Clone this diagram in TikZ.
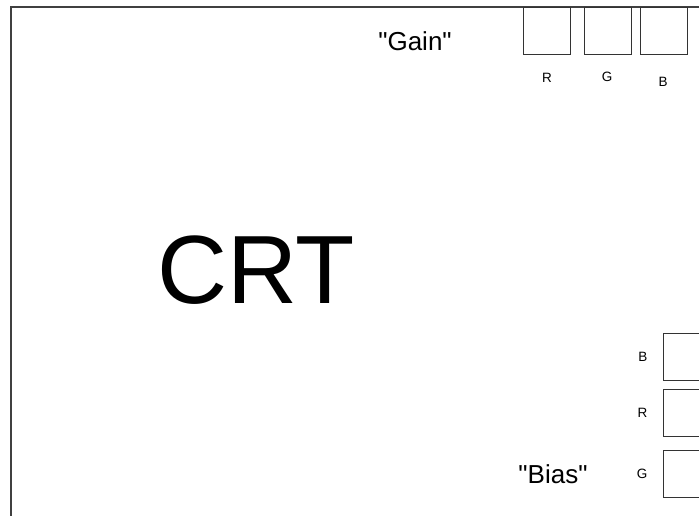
\documentclass[tikz,border=0pt]{standalone}
\usepackage{fontspec}
\setmainfont{Liberation Sans}[Ligatures=TeXOff]
\usetikzlibrary{positioning}
\tikzstyle{frame}=[draw=black!75, line width=1.2pt]
\tikzstyle{knob}=[rectangle, draw=black!80, line width=0.9pt, minimum width=47pt, minimum height=47pt, inner sep=0pt]
\tikzstyle{chan}=[font=\fontsize{13.5}{13.5}\selectfont, inner sep=0pt]
\tikzstyle{caption}=[font=\fontsize{26}{26}\selectfont, inner sep=0pt, anchor=base]

\begin{document}
\begin{tikzpicture}[x=1pt, y=-1pt]
    \useasboundingbox (0,0) rectangle (699,515);
    \clip (0,0) rectangle (699,515);

    % Gehäuse
    \draw[frame] (11,540) |- (720,7);

    % Bildröhre
    \node[font=\fontsize{97}{97}\selectfont, inner sep=0pt, anchor=base] (crt) at (256,303) {CRT};

    % Verstärkung (oben)
    \node[caption] (gain) at (415,50) {"Gain"};
    \node[knob] (gainR) at (546.5,30.5) {};
    \node[knob] (gainG) at (607.5,30.5) {};
    \node[knob] (gainB) at (663.5,30.5) {};
    \node[chan] (gainRl) at (547,78) {R};
    \node[chan] (gainGl) at (607,77) {G};
    \node[chan] (gainBl) at (663,82) {B};

    % Offset (rechts unten)
    \node[caption] (bias) at (553,483) {"Bias"};
    \foreach \name/\y in {B/357, R/413, G/474} {
      \node[knob] (bias\name) at (686.5,\y) {};
      \node[chan, left=15pt of bias\name] (bias\name l) {\name};
    }
\end{tikzpicture}
\end{document}
